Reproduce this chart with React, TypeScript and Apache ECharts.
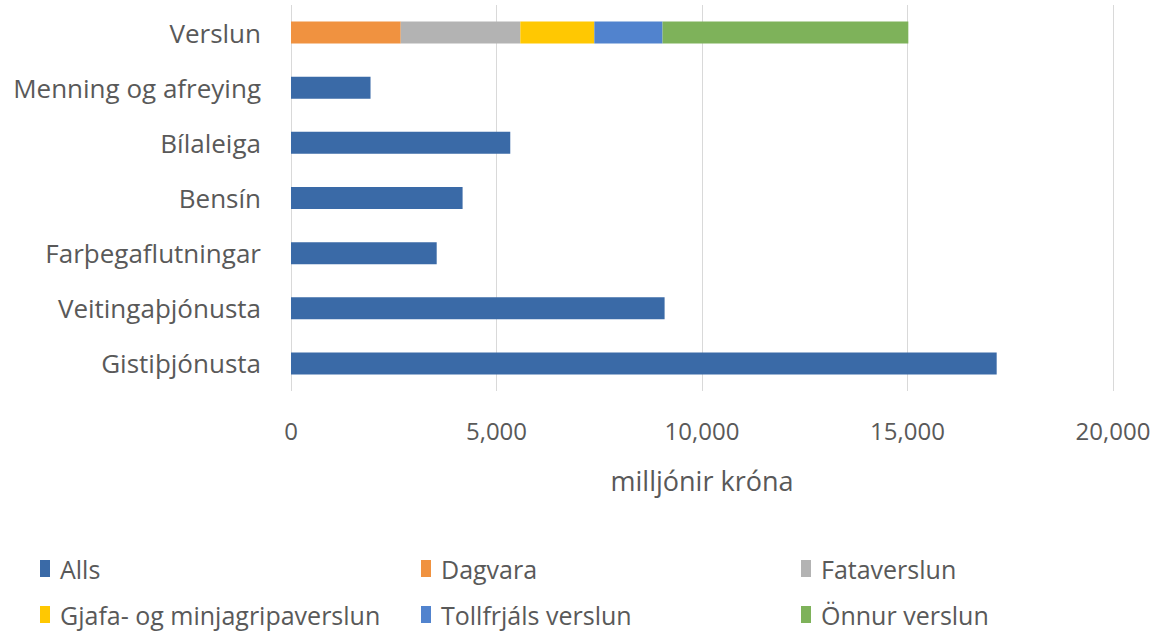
import React, { useEffect, useRef } from "react";
import * as echarts from "echarts";

const categories = [
  "Gistiþjónusta",
  "Veitingaþjónusta",
  "Farþegaflutningar",
  "Bensín",
  "Bílaleiga",
  "Menning og afreying",
  "Verslun",
];
const alls = [17170, 9090, 3545, 4175, 5335, 1935, null];
const dagvara = [null, null, null, null, null, null, 2670];
const fataverslun = [null, null, null, null, null, null, 2910];
const gjafaverslun = [null, null, null, null, null, null, 1800];
const tollfrjals = [null, null, null, null, null, null, 1660];
const onnur = [null, null, null, null, null, null, 5980];
const xTicks = { min: 0, max: 20000, interval: 5000 };

const seriesDefs = [
  { name: "Alls", data: alls, color: "#3A6AA7" },
  { name: "Dagvara", data: dagvara, color: "#F09240" },
  { name: "Fataverslun", data: fataverslun, color: "#B3B3B3" },
  { name: "Gjafa- og minjagripaverslun", data: gjafaverslun, color: "#FFC802" },
  { name: "Tollfrjáls verslun", data: tollfrjals, color: "#5183CE" },
  { name: "Önnur verslun", data: onnur, color: "#7EB25A" },
];

const FONT = "'Open Sans', sans-serif";
const TXT = "#595959";

export default function App() {
  const ref = useRef<HTMLDivElement>(null);
  useEffect(() => {
    if (!ref.current) return;
    const chart = echarts.init(ref.current, null, { renderer: "svg" });
    const legendPos = [
      { left: 40, top: 556 },
      { left: 421, top: 556 },
      { left: 801, top: 556 },
      { left: 40, top: 602 },
      { left: 421, top: 602 },
      { left: 801, top: 602 },
    ];
    chart.setOption({
      animation: false,
      textStyle: { fontFamily: FONT },
      grid: { left: 291, right: 42, top: 5, height: 386 },
      xAxis: {
        type: "value",
        min: xTicks.min,
        max: xTicks.max,
        interval: xTicks.interval,
        axisLine: { show: false },
        axisTick: { show: false },
        splitLine: { lineStyle: { color: "#D9D9D9", width: 1 } },
        axisLabel: {
          color: TXT,
          fontSize: 24,
          fontFamily: FONT,
          margin: 27,
          formatter: (v: number) => v.toLocaleString("en-US"),
        },
        name: "milljónir króna",
        nameLocation: "middle",
        nameGap: 76,
        nameTextStyle: { color: TXT, fontSize: 27, fontFamily: FONT },
      },
      yAxis: {
        type: "category",
        data: categories,
        axisLine: { show: false },
        axisTick: { show: false },
        axisLabel: { color: TXT, fontSize: 26, fontFamily: FONT, margin: 30 },
      },
      legend: seriesDefs.map((s, i) => ({
        data: [s.name],
        left: legendPos[i].left,
        top: legendPos[i].top,
        padding: 0,
        icon: "rect",
        itemWidth: 10,
        itemHeight: 17,
        itemGap: 0,
        textStyle: { color: TXT, fontSize: 25, fontFamily: FONT, padding: [0, 0, 0, 5] },
      })),
      series: seriesDefs.map((s) => ({
        name: s.name,
        type: "bar",
        stack: "total",
        data: s.data,
        barWidth: 22,
        itemStyle: { color: s.color },
      })),
    });
    return () => chart.dispose();
  }, []);
  return (
    <div
      ref={ref}
      style={{ position: "fixed", left: 0, top: 0, width: 1155, height: 634, background: "#fff" }}
    />
  );
}
